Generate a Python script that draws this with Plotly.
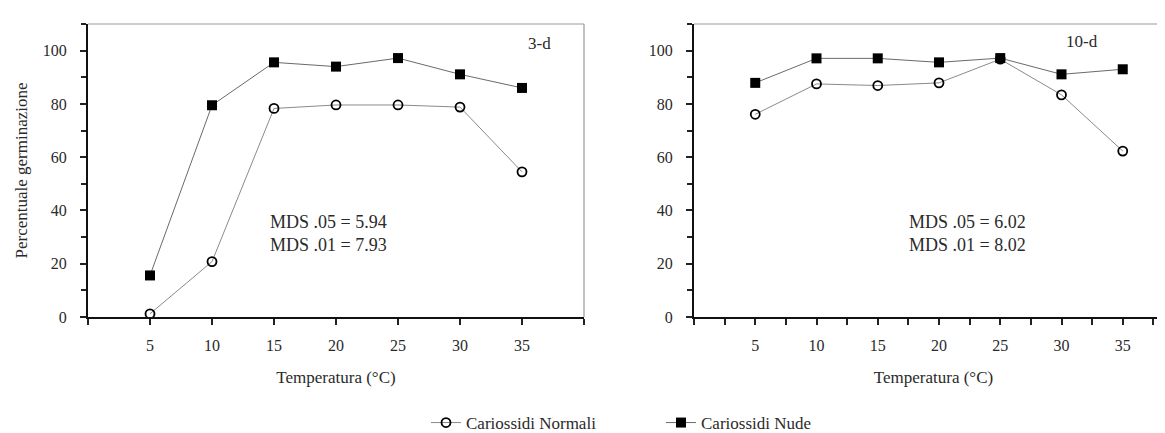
import plotly.graph_objects as go

temperature = [5, 10, 15, 20, 25, 30, 35]
normali_3d = [1.2, 20.8, 78.3, 79.6, 79.6, 78.8, 54.5]
nude_3d = [15.6, 79.5, 95.6, 94.0, 97.2, 91.1, 86.0]
normali_10d = [76.1, 87.5, 86.9, 87.9, 96.8, 83.4, 62.3]
nude_10d = [87.9, 97.1, 97.1, 95.6, 97.2, 91.1, 93.0]

series_names = ["Cariossidi Normali", "Cariossidi Nude"]
panel_labels = ["3-d", "10-d"]
mds_texts = ["MDS .05 = 5.94<br>MDS .01 = 7.93", "MDS .05 = 6.02<br>MDS .01 = 8.02"]
y_ticks = [0, 20, 40, 60, 80, 100]
x_ticks_left = [0, 5, 10, 15, 20, 25, 30, 35, 40]
x_ticktext_left = ["", "5", "10", "15", "20", "25", "30", "35", ""]
x_ticks_right = [0, 2.5, 5, 7.5, 10, 12.5, 15, 17.5, 20, 22.5, 25, 27.5, 30, 32.5, 35, 37.5]
x_ticktext_right = ["", "", "5", "", "10", "", "15", "", "20", "", "25", "", "30", "", "35", ""]

FONT = "Liberation Serif, Times New Roman, serif"
W, H = 1165, 433
TXT = "#2a2a2a"

fig = go.Figure()

circle = dict(symbol="circle-open", size=9, color="black", line=dict(width=1.8, color="black"))
square = dict(symbol="square", size=10, color="black")

fig.add_trace(go.Scatter(x=temperature, y=normali_3d, mode="lines+markers", name=series_names[0],
                         line=dict(color="#8a8a8a", width=1), marker=circle, xaxis="x", yaxis="y",
                         legendgroup="n"))
fig.add_trace(go.Scatter(x=temperature, y=nude_3d, mode="lines+markers", name=series_names[1],
                         line=dict(color="#6a6a6a", width=1), marker=square, xaxis="x", yaxis="y",
                         legendgroup="u"))
fig.add_trace(go.Scatter(x=temperature, y=normali_10d, mode="lines+markers", name=series_names[0],
                         line=dict(color="#8a8a8a", width=1), marker=circle, xaxis="x2", yaxis="y2",
                         legendgroup="n", showlegend=False))
fig.add_trace(go.Scatter(x=temperature, y=nude_10d, mode="lines+markers", name=series_names[1],
                         line=dict(color="#6a6a6a", width=1), marker=square, xaxis="x2", yaxis="y2",
                         legendgroup="u", showlegend=False))

tickfont = dict(family=FONT, size=16, color=TXT)
common_y = dict(range=[0, 110], tickvals=y_ticks, ticks="outside", ticklen=6, tickwidth=1.5,
                tickcolor="#222", showline=True, linecolor="#111", linewidth=2, showgrid=False,
                zeroline=False, tickfont=tickfont, ticklabelstandoff=10,
                minor=dict(tickvals=[10, 30, 50, 70, 90, 110], ticks="outside", ticklen=5,
                           tickwidth=1.5, tickcolor="#222"))
common_x = dict(ticks="outside", ticklen=6, tickwidth=1.5, tickcolor="#222", showline=True,
                linecolor="#111", linewidth=2, showgrid=False, zeroline=False, tickfont=tickfont,
                ticklabelstandoff=7,
                title=dict(text="Temperatura (°C)", font=dict(family=FONT, size=17, color=TXT),
                           standoff=18))

left_dom = [80 / W, 576 / W]
right_dom = [686 / W, 1.0]
right_max = (W - 686) / 12.25

fig.update_layout(
    width=W, height=H,
    margin=dict(l=0, r=0, t=16, b=117),
    paper_bgcolor="white", plot_bgcolor="white",
    showlegend=True,
    xaxis=dict(domain=left_dom, range=[0, 40], tickvals=x_ticks_left, ticktext=x_ticktext_left,
               anchor="y", **common_x),
    yaxis=dict(domain=[0, 1], anchor="x", **common_y,
               title=dict(text="Percentuale germinazione", font=dict(family=FONT, size=17, color=TXT),
                          standoff=11)),
    xaxis2=dict(domain=right_dom, range=[0, right_max], tickvals=x_ticks_right,
                ticktext=x_ticktext_right, anchor="y2", **common_x),
    yaxis2=dict(domain=[0, 1], anchor="x2", **common_y),
    legend=dict(orientation="h", x=418 / W, xanchor="left", y=-0.363, yanchor="middle",
                font=dict(family=FONT, size=17, color=TXT), entrywidth=190,
                bgcolor="rgba(0,0,0,0)"),
)

# frame lines (top and right) in gray
for xr, yr, right in (("x domain", "y domain", True), ("x2 domain", "y2 domain", False)):
    fig.add_shape(type="line", xref=xr, yref=yr, x0=0, x1=1, y0=1, y1=1,
                  line=dict(color="#9a9a9a", width=1.2))
    if right:
        fig.add_shape(type="line", xref=xr, yref=yr, x0=1, x1=1, y0=0, y1=1,
                      line=dict(color="#9a9a9a", width=1.2))

fig.add_annotation(x=36.4, y=102.7, xref="x", yref="y", text=panel_labels[0], showarrow=False,
                   font=dict(family=FONT, size=17, color=TXT))
fig.add_annotation(x=31.7, y=103.5, xref="x2", yref="y2", text=panel_labels[1], showarrow=False,
                   font=dict(family=FONT, size=17, color=TXT))
fig.add_annotation(x=19.4, y=31.2, xref="x", yref="y", text=mds_texts[0], showarrow=False,
                   font=dict(family=FONT, size=18, color=TXT), align="center")
fig.add_annotation(x=22.3, y=31.2, xref="x2", yref="y2", text=mds_texts[1], showarrow=False,
                   font=dict(family=FONT, size=18, color=TXT), align="center")

fig.write_html("out.html")
